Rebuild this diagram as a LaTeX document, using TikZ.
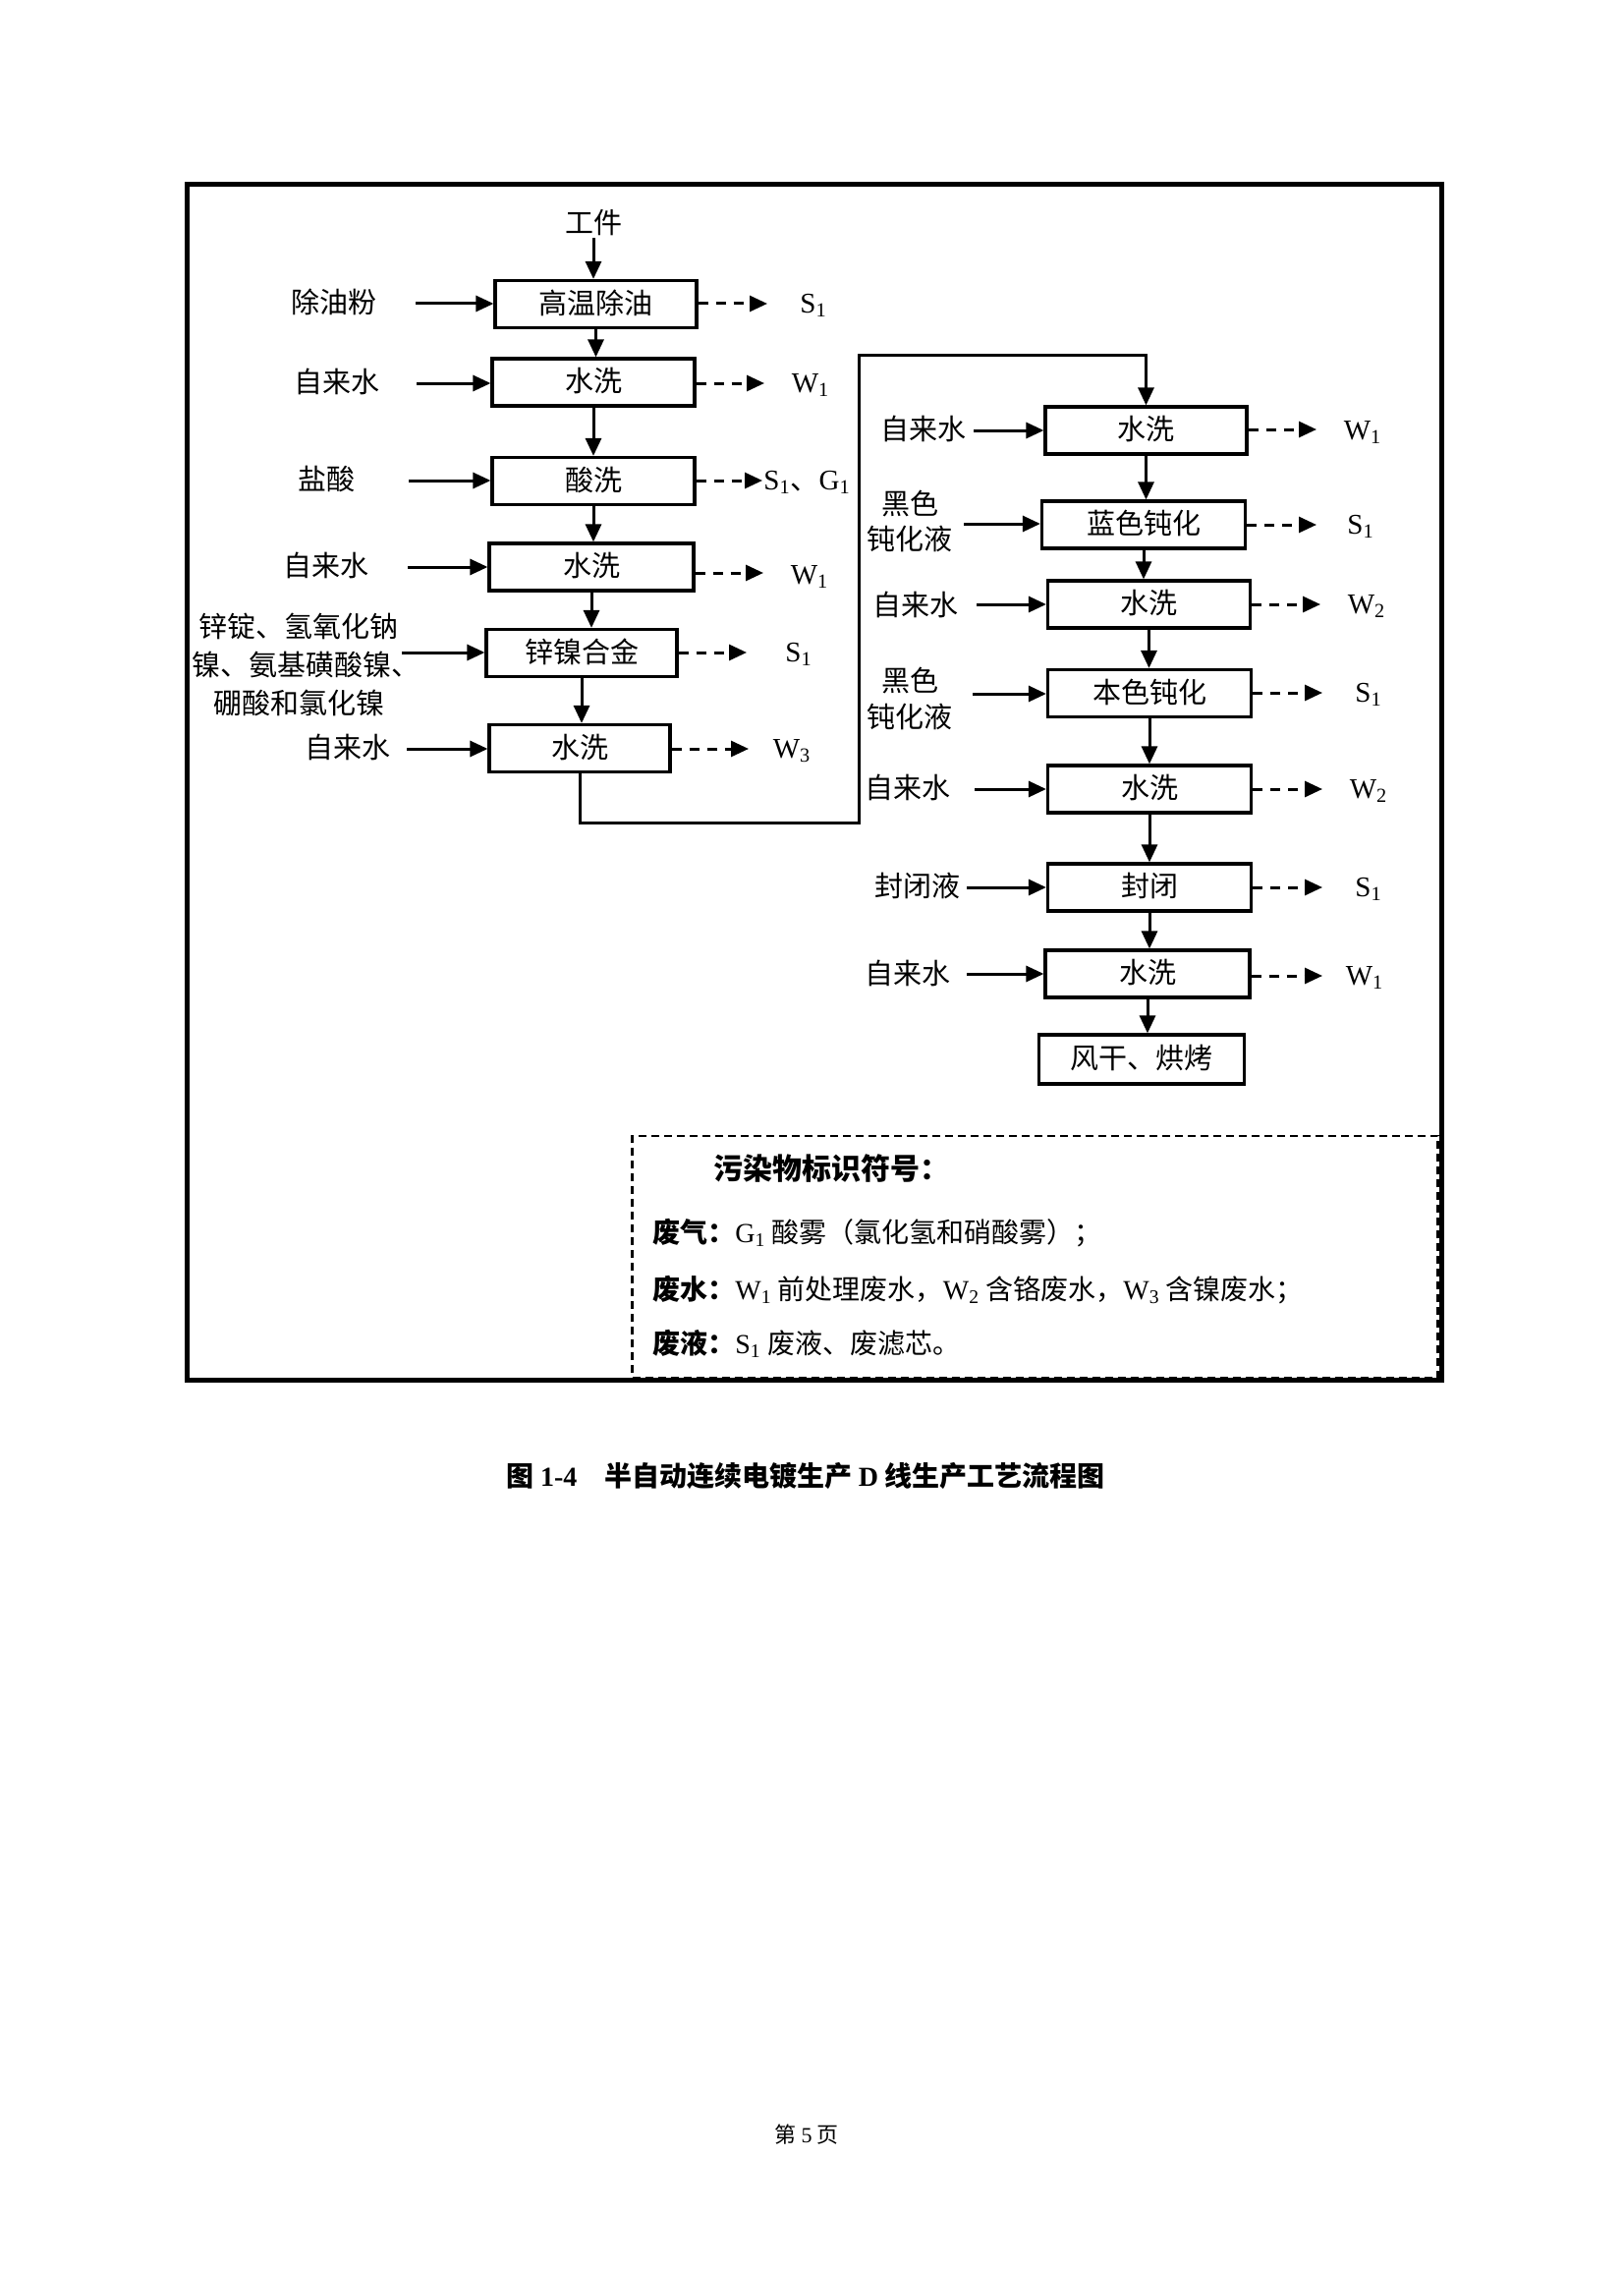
\documentclass[tikz,border=0pt]{standalone}
\usepackage{fontspec}
\setmainfont{Noto Sans CJK SC}
\newfontfamily\tnr{Liberation Serif}
\usetikzlibrary{arrows.meta}
\newcommand\Lsub[2]{{\tnr #1\textsubscript{#2}}}
\begin{document}
\begin{tikzpicture}[x=0.5pt,y=-0.5pt,
  box/.style={draw, line width=1.6pt, minimum height=24pt, inner sep=0pt,
    text height=0.98em, text depth=0.02em, font=\fontsize{14.5pt}{17pt}\selectfont},
  wd/.style={minimum width={#1*0.5pt}},
  lab/.style={inner sep=2pt, text height=0.98em, text depth=0.02em, font=\fontsize{14.5pt}{17pt}\selectfont},
  mlab/.style={inner sep=0pt, align=center, font=\fontsize{14.5pt}{#1}\selectfont},
  outl/.style={inner sep=0pt, font=\fontsize{14.5pt}{17pt}\selectfont},
  arr/.style={line width=1.5pt, -{Triangle[length=9pt,width=8pt]}},
  darr/.style={line width=1.5pt, dash pattern=on 5pt off 4pt, -{Triangle[length=9pt,width=8pt]}},
  legt/.style={anchor=west, inner sep=0pt, text height=0.88em, text depth=0.12em, font=\fontsize{14pt}{17pt}\selectfont},
]
\useasboundingbox (0,0) rectangle (1653,2311);
\fill[white] (0,0) rectangle (1653,2311);

% outer frame
\node[draw, line width=2.1pt, minimum width={1277*0.5pt}, minimum height={1217*0.5pt}, inner sep=0pt] (frame) at (829,796) {};

% ---------- left column ----------
\node[lab] (top) at (604,228) {工件};
\node[box, wd=205] (L1) at (606.5,309.5) {高温除油};
\node[box, wd=206] (L2) at (604,389) {水洗};
\node[box, wd=206] (L3) at (604,489.5) {酸洗};
\node[box, wd=208] (L4) at (602,577) {水洗};
\node[box, wd=194] (L5) at (592,664.5) {锌镍合金};
\node[box, wd=184] (L6) at (590,761.5) {水洗};

\draw[arr] (top) -- (top |- L1.north);
\draw[arr] (L1.south) -- (L1.south |- L2.north);
\draw[arr] (L2.south) -- (L2.south |- L3.north);
\draw[arr] (L3.south) -- (L3.south |- L4.north);
\draw[arr] (L4.south) -- (L4.south |- L5.north);
\draw[arr] (L5.south) -- (L5.south |- L6.north);

% inputs left
\node[lab] (i1) at (340,309) {除油粉};
\node[lab] (i2) at (343,390) {自来水};
\node[lab] (i3) at (332,489) {盐酸};
\node[lab] (i4) at (332,577) {自来水};
\node[mlab=19.5pt] (i5) at (304,676) {锌锭、氢氧化钠\\镍、氨基磺酸镍\makebox[0.45em][l]{、}\\硼酸和氯化镍};
\node[lab] (i6) at (354,762) {自来水};
\coordinate (a1) at (423,309);
\coordinate (a2) at (424,390);
\coordinate (a3) at (416,489);
\coordinate (a4) at (415,577);
\coordinate (a5) at (409,664);
\coordinate (a6) at (414,762);
\draw[arr] (a1) -- (a1 -| L1.west);
\draw[arr] (a2) -- (a2 -| L2.west);
\draw[arr] (a3) -- (a3 -| L3.west);
\draw[arr] (a4) -- (a4 -| L4.west);
\draw[arr] (a5) -- (a5 -| L5.west);
\draw[arr] (a6) -- (a6 -| L6.west);

% outputs left
\coordinate (o1) at (781,309);
\coordinate (o2) at (778,390);
\coordinate (o3) at (776,489);
\coordinate (o4) at (777,583);
\coordinate (o5) at (760,664);
\coordinate (o6) at (762,762);
\draw[darr] (L1.east |- o1) -- (o1);
\draw[darr] (L2.east |- o2) -- (o2);
\draw[darr] (L3.east |- o3) -- (o3);
\draw[darr] (L4.east |- o4) -- (o4);
\draw[darr] (L5.east |- o5) -- (o5);
\draw[darr] (L6.east |- o6) -- (o6);
\node[outl] (p1) at (828,311) {\Lsub{S}{1}};
\node[outl] (p2) at (825,392) {\Lsub{W}{1}};
\node[outl, anchor=west] (p3) at (777,491) {\Lsub{S}{1}、\Lsub{G}{1}};
\node[outl] (p4) at (824,587) {\Lsub{W}{1}};
\node[outl] (p5) at (813,666) {\Lsub{S}{1}};
\node[outl] (p6) at (806,764) {\Lsub{W}{3}};

% ---------- right column ----------
\node[box, wd=205] (R1) at (1166.5,438) {水洗};
\node[box, wd=207] (R2) at (1164,534) {蓝色钝化};
\node[box, wd=206] (R3) at (1169.5,615) {水洗};
\node[box, wd=207] (R4) at (1170,705.5) {本色钝化};
\node[box, wd=207] (R5) at (1170,803) {水洗};
\node[box, wd=207] (R6) at (1170,903) {封闭};
\node[box, wd=208] (R7) at (1168,991) {水洗};
\node[box, wd=209, minimum height=25pt] (R8) at (1162,1078) {风干、烘烤};

\draw[arr] (R1.south) -- (R1.south |- R2.north);
\draw[arr] (R2.south) -- (R2.south |- R3.north);
\draw[arr] (R3.south) -- (R3.south |- R4.north);
\draw[arr] (R4.south) -- (R4.south |- R5.north);
\draw[arr] (R5.south) -- (R5.south |- R6.north);
\draw[arr] (R6.south) -- (R6.south |- R7.north);
\draw[arr] (R7.south) -- (R7.south |- R8.north);

% connector left -> right
\coordinate (c1) at (874,837);
\coordinate (c2) at (874,362);
\draw[arr] (L6.south) |- (c1) -- (c2) -| (R1.north);

% inputs right
\node[lab] (j1) at (940,438) {自来水};
\node[mlab=18pt] (j2) at (926,530) {黑色\\钝化液};
\node[lab] (j3) at (932,617) {自来水};
\node[mlab=18.5pt] (j4) at (926,711) {黑色\\钝化液};
\node[lab] (j5) at (924,803) {自来水};
\node[lab] (j6) at (934,903) {封闭液};
\node[lab] (j7) at (924,992) {自来水};
\coordinate (b1) at (991,438);
\coordinate (b2) at (981,533);
\coordinate (b3) at (994,615);
\coordinate (b4) at (990,706);
\coordinate (b5) at (992,803);
\coordinate (b6) at (984,903);
\coordinate (b7) at (984,991);
\draw[arr] (b1) -- (b1 -| R1.west);
\draw[arr] (b2) -- (b2 -| R2.west);
\draw[arr] (b3) -- (b3 -| R3.west);
\draw[arr] (b4) -- (b4 -| R4.west);
\draw[arr] (b5) -- (b5 -| R5.west);
\draw[arr] (b6) -- (b6 -| R6.west);
\draw[arr] (b7) -- (b7 -| R7.west);

% outputs right
\coordinate (q1) at (1340,437);
\coordinate (q2) at (1340,534);
\coordinate (q3) at (1344,615);
\coordinate (q4) at (1346,705);
\coordinate (q5) at (1346,803);
\coordinate (q6) at (1346,903);
\coordinate (q7) at (1346,993);
\draw[darr] (R1.east |- q1) -- (q1);
\draw[darr] (R2.east |- q2) -- (q2);
\draw[darr] (R3.east |- q3) -- (q3);
\draw[darr] (R4.east |- q4) -- (q4);
\draw[darr] (R5.east |- q5) -- (q5);
\draw[darr] (R6.east |- q6) -- (q6);
\draw[darr] (R7.east |- q7) -- (q7);
\node[outl] (r1) at (1387,440) {\Lsub{W}{1}};
\node[outl] (r2) at (1385,536) {\Lsub{S}{1}};
\node[outl] (r3) at (1391,617) {\Lsub{W}{2}};
\node[outl] (r4) at (1393,707) {\Lsub{S}{1}};
\node[outl] (r5) at (1393,805) {\Lsub{W}{2}};
\node[outl] (r6) at (1393,905) {\Lsub{S}{1}};
\node[outl] (r7) at (1389,995) {\Lsub{W}{1}};

% ---------- legend ----------
\node[draw, line width=1.2pt, dash pattern=on 4pt off 2.5pt, minimum width={820*0.5pt}, minimum height={246*0.5pt}, inner sep=0pt] (leg) at (1053.5,1279) {};
\node[legt, font=\fontsize{15pt}{18pt}\selectfont\bfseries] (lt) at (726,1193) {污染物标识符号：};
\node[legt] (l1) at (664,1257) {{\bfseries 废气：}\Lsub{G}{1} 酸雾（氯化氢和硝酸雾）；};
\node[legt] (l2) at (664,1315) {{\bfseries 废水：}\Lsub{W}{1} 前处理废水，\Lsub{W}{2} 含铬废水，\Lsub{W}{3} 含镍废水；};
\node[legt] (l3) at (664,1370) {{\bfseries 废液：}\Lsub{S}{1} 废液、废滤芯。};

% ---------- caption ----------
\node[inner sep=0pt, text height=0.88em, text depth=0.12em, font=\fontsize{14pt}{17pt}\selectfont\bfseries] (cap) at (820,1505)
  {图 {\tnr\bfseries 1-4}\hspace{1em}半自动连续电镀生产 {\tnr\bfseries D} 线生产工艺流程图};
\node[inner sep=0pt, font=\fontsize{11pt}{13pt}\selectfont] (pg) at (821,2172) {第 {\tnr 5} 页};
\end{tikzpicture}
\end{document}
